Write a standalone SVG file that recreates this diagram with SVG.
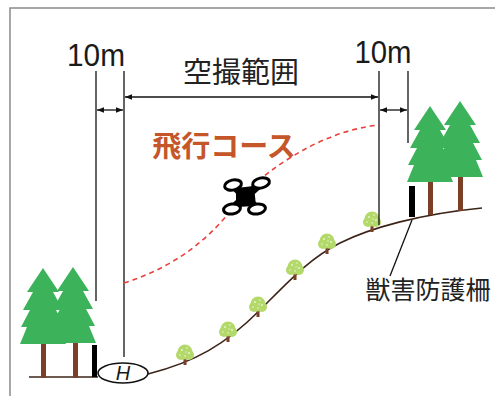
<svg xmlns="http://www.w3.org/2000/svg" width="495" height="396" viewBox="0 0 495 396">
  <defs>
    <style>
      .frame { fill: none; stroke: #8a8a8a; stroke-width: 1.5; }
      .dim { fill: none; stroke: #111; stroke-width: 1.3; }
      .ground { fill: none; stroke: #3d2418; stroke-width: 1.6; }
      .path { fill: none; stroke: #e8413c; stroke-width: 1.6; stroke-dasharray: 5 4; }
      .pine { fill: #3cb35a; }
      .trunk { fill: #7b3f27; }
      .post { fill: #000; }
      .bush { fill: #b3d96a; }
      .speck { fill: #fff; opacity: 0.75; }
      .lbl { font-family: "Liberation Sans", Arial, sans-serif; fill: #1a1a1a; }
      .jp { font-family: "Noto Sans CJK JP", "Noto Sans", sans-serif; fill: #222; }
      .course { font-family: "Noto Sans CJK JP", "Noto Sans", sans-serif; fill: #c4562a; font-weight: bold; }
    </style>
    <marker id="ah" viewBox="0 0 10 10" refX="10" refY="5" markerWidth="7" markerHeight="7" markerUnits="userSpaceOnUse" orient="auto-start-reverse">
      <path d="M0,1 L10,5 L0,9 Z" fill="#111"/>
    </marker>
    <!-- pine tree, apex at origin -->
    <polygon id="pineShape" points="0,0 16,24 10,24 20,42 13,42 22,59 16,59 23,76 -23,76 -16,59 -22,59 -13,42 -20,42 -10,24 -16,24"/>
    <g id="bushShape">
      <rect class="trunk" x="-1.5" y="4" width="3" height="8"/>
      <circle class="bush" cx="0" cy="-1" r="7.5"/>
      <circle class="bush" cx="-4" cy="2" r="5"/>
      <circle class="bush" cx="4" cy="2" r="5"/>
      <circle class="speck" cx="-3" cy="-3" r="0.9"/>
      <circle class="speck" cx="2" cy="-5" r="0.8"/>
      <circle class="speck" cx="4" cy="0" r="0.9"/>
      <circle class="speck" cx="-5" cy="2" r="0.8"/>
      <circle class="speck" cx="0" cy="3" r="0.8"/>
      <circle class="speck" cx="1" cy="-1" r="0.7"/>
    </g>
  </defs>

  <rect width="495" height="396" fill="#fff"/>

  <!-- outer frame (top and left edges) -->
  <path class="frame" d="M10,396 L10,8 L495,8"/>

  <!-- labels -->
  <g id="label-10m-left"><text class="lbl" x="96" y="66" font-size="32" text-anchor="middle" textLength="58" lengthAdjust="spacingAndGlyphs">10m</text></g>
  <g id="label-10m-right"><text class="lbl" x="383" y="63" font-size="32" text-anchor="middle" textLength="57" lengthAdjust="spacingAndGlyphs">10m</text></g>
  <g id="label-range"><text class="jp" x="241" y="83" font-size="29" text-anchor="middle">空撮範囲</text></g>
  <g id="label-course"><text class="course" x="224" y="157" font-size="29" text-anchor="middle">飛行コース</text></g>
  <g id="label-fence"><text class="jp" x="428" y="299" font-size="25" text-anchor="middle">獣害防護柵</text></g>

  <!-- ground -->
  <g id="ground">
    <path class="ground" d="M29,377 L98,377"/>
    <path class="ground" d="M148,374 C195,362 225,345 260,310 C290,280 310,258 340,243 C370,228 420,214 482,208"/>
  </g>

  <!-- left pine trees -->
  <g id="trees-left">
    <rect class="trunk" x="41" y="340" width="5" height="38"/>
    <rect class="trunk" x="73" y="339" width="5" height="39"/>
    <use href="#pineShape" class="pine" x="43" y="268"/>
    <use href="#pineShape" class="pine" x="73" y="267"/>
  </g>

  <!-- right pine trees -->
  <g id="trees-right">
    <rect class="trunk" x="428" y="178" width="5" height="37"/>
    <rect class="trunk" x="458" y="174" width="5" height="37"/>
    <use href="#pineShape" class="pine" x="430" y="106"/>
    <use href="#pineShape" class="pine" x="460" y="101"/>
  </g>

  <!-- fence posts -->
  <g id="fence-left"><rect class="post" x="92" y="345" width="5" height="32"/></g>
  <g id="fence-right"><rect class="post" x="409" y="186" width="6" height="31"/></g>

  <!-- saplings on the slope -->
  <g id="bushes">
    <use href="#bushShape" x="185" y="353"/>
    <use href="#bushShape" x="228" y="330"/>
    <use href="#bushShape" x="258" y="305"/>
    <use href="#bushShape" x="295" y="268"/>
    <use href="#bushShape" x="327" y="242"/>
    <use href="#bushShape" x="372" y="220"/>
  </g>

  <!-- helipad -->
  <g id="helipad">
    <ellipse cx="123" cy="373" rx="25" ry="10" fill="#fff" stroke="#111" stroke-width="1.6"/>
    <text class="lbl" x="123" y="380" font-size="20" font-style="italic" text-anchor="middle">H</text>
  </g>

  <!-- connectors -->
  <g id="connectors">
    <path class="dim" d="M96,71 L96,301"/>
    <path class="dim" d="M124,71 L124,357"/>
    <path class="dim" d="M379,71 L379,225"/>
    <path class="dim" d="M408,71 L408,143"/>
    <path class="dim" d="M97,110 L123,110" marker-start="url(#ah)" marker-end="url(#ah)"/>
    <path class="dim" d="M380,110 L407,110" marker-start="url(#ah)" marker-end="url(#ah)"/>
    <path class="dim" d="M125,97 L378,97" marker-start="url(#ah)" marker-end="url(#ah)"/>
    <path class="dim" d="M412,220 L390,276" stroke-width="1"/>
    <path class="path" d="M124,283 C165,270 200,248 228,214 C245,194 258,180 272,170 C300,150 335,130 379,125"/>
  </g>

  <!-- drone -->
  <g id="drone">
    <g stroke="#000" stroke-width="8" stroke-linecap="round">
      <path d="M233,185 L257,209"/>
      <path d="M261,183 L232,209"/>
    </g>
    <path d="M236,188 L254,186 L256,206 L236,207 Z" fill="#000"/>
    <g fill="#fff" stroke="#000" stroke-width="3">
      <ellipse cx="233" cy="185" rx="8.5" ry="5" transform="rotate(-12 233 185)"/>
      <ellipse cx="261" cy="183" rx="8.5" ry="5" transform="rotate(-12 261 183)"/>
      <ellipse cx="232" cy="209" rx="8.5" ry="5" transform="rotate(-8 232 209)"/>
      <ellipse cx="257" cy="209" rx="8.5" ry="5" transform="rotate(-8 257 209)"/>
    </g>
  </g>
</svg>
